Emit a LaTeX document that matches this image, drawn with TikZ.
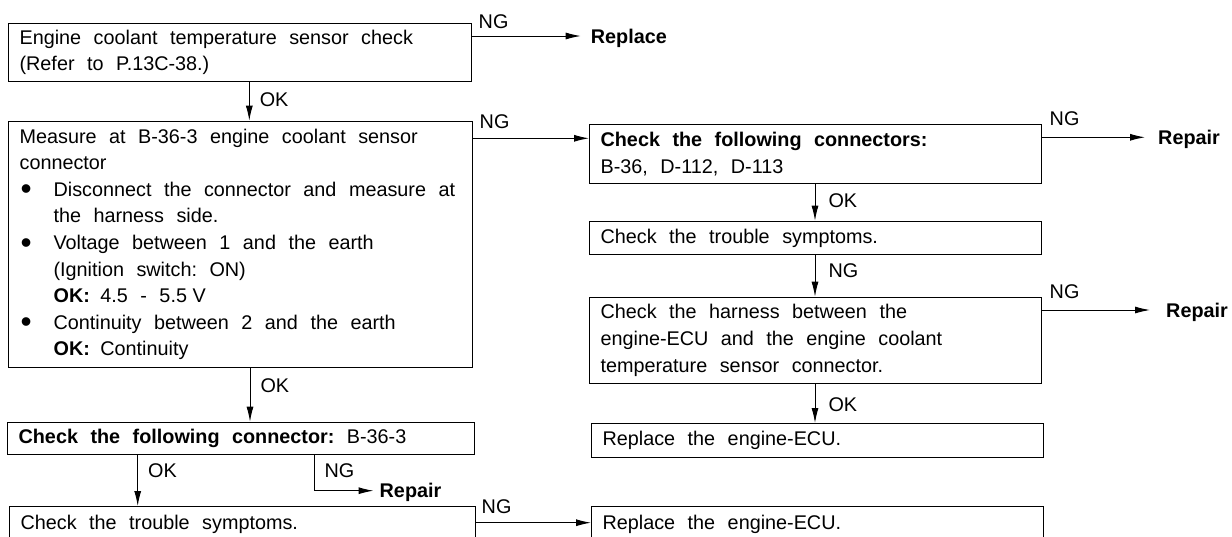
\documentclass[tikz,border=0pt]{standalone}
\usepackage{fontspec}
\setmainfont{Liberation Sans}
\usetikzlibrary{arrows.meta}
\newcommand\myind{\hspace*{34pt}}
\newcommand\mybul{\makebox[34pt][l]{\hspace*{1pt}\raisebox{-3.6pt}{\scalebox{1.6}{•}}}}
\newcommand\myfont{\fontsize{19.8}{26.6}\selectfont\frenchspacing}
\newcommand\widesp{\spaceskip=12.5pt plus 2pt minus 1pt\xspaceskip=12.5pt plus 2pt minus 1pt\relax}
\begin{document}
\begin{tikzpicture}[x=1pt,y=-1pt,
  box/.style={draw, line width=1.2pt, anchor=north west, align=left, inner xsep=11pt, inner ysep=0pt,
    font=\myfont, execute at begin node=\widesp},
  lbl/.style={anchor=west, inner sep=0pt, font=\myfont, text height=14pt, text depth=0pt},
  lblb/.style={lbl, font=\myfont\bfseries},
  ng/.style={anchor=base west, inner sep=0pt, font=\myfont},
  arr/.style={line width=1pt, -{Latex[length=15pt,width=7pt]}},
]
\useasboundingbox (0,0) rectangle (1232,536);

% left column
\node[box, minimum width=463pt, minimum height=58.3pt, text width=441pt] (b1) at (8,22.7)
  {Engine coolant temperature sensor check\\(Refer to P.13C-38.)};
\node[box, minimum width=464pt, minimum height=246pt, text width=442pt] (b2) at (8,120.7)
  {Measure at B-36-3 engine coolant sensor\\
   connector\\
   \mybul Disconnect the connector and measure at\\
   \myind the harness side.\\
   \mybul Voltage between 1 and the earth\\
   \myind (Ignition switch: ON)\\
   \myind \textbf{OK:}\hspace{-2pt} 4.5 - 5.5\hspace{-7pt} V\\
   \mybul Continuity between 2 and the earth\\
   \myind \textbf{OK:}\hspace{-2pt} Continuity};
\node[box, minimum width=467pt, minimum height=32.3pt, text width=445pt] (b3) at (7,421.7)
  {\textbf{Check the following connector:} B-36-3};
\node[box, minimum width=466pt, minimum height=36pt, text width=444pt] (b4) at (9,506)
  {Check the trouble symptoms.};

% right column
\node[box, minimum width=452pt, minimum height=58.7pt, text width=430pt] (r1) at (589,124)
  {\textbf{Check the following connectors:}\\B-36, D-112, D-113};
\node[box, minimum width=452pt, minimum height=33.3pt, text width=430pt] (r2) at (589,220.7)
  {Check the trouble symptoms.};
\node[box, minimum width=452pt, minimum height=86.3pt, text width=430pt] (r3) at (589,296.7)
  {Check the harness between the\\engine-ECU and the engine coolant\\temperature sensor connector.};
\node[box, minimum width=452pt, minimum height=34pt, text width=430pt] (r4) at (591,423)
  {Replace the engine-ECU.};
\node[box, minimum width=452pt, minimum height=36pt, text width=430pt] (r5) at (591,506)
  {Replace the engine-ECU.};

% result texts
\node[lblb] (rep1) at (590.7,36) {Replace};
\node[lblb] (rep2) at (1158,137.3) {Repair};
\node[lblb] (rep3) at (1166,310) {Repair};
\node[lblb] (rep4) at (379.5,490.7) {Repair};

% helper coordinates
\coordinate (a1) at ([xshift=241.3pt]b1.south west);
\coordinate (a2) at ([xshift=242pt]b2.south west);
\coordinate (a3) at ([xshift=130.7pt]b3.south west);
\coordinate (a4) at ([xshift=307pt]b3.south west);
\coordinate (rx1) at ([xshift=226pt]r1.south west);
\coordinate (rx2) at ([xshift=226pt]r2.south west);
\coordinate (rx3) at ([xshift=226pt]r3.south west);
\coordinate (r1in) at ([yshift=-14.3pt]r1.north west);
\coordinate (r5in) at ([yshift=-16.7pt]r5.north west);

% connectors
\draw[arr] (b1.east |- rep1.west) -- ([xshift=-10pt]rep1.west)
  node[ng, at start, xshift=6pt, yshift=8pt] {NG};
\draw[arr] (a1) -- (a1 |- b2.north) node[lbl, pos=0.45, xshift=10pt] {OK};
\draw[arr] (b2.east |- r1in) -- (r1in) node[ng, at start, xshift=6pt, yshift=10pt] {NG};
\draw[arr] (a2) -- (a2 |- b3.north) node[lbl, pos=0.33, xshift=10pt] {OK};
\draw[arr] (a3) -- (a3 |- b4.north) node[lbl, pos=0.31, xshift=10pt] {OK};
\draw[arr] (a4) |- ([xshift=-6pt]rep4.west) node[lbl, pos=0.22, xshift=10pt] {NG};
\draw[arr] (b4.east |- r5in) -- (r5in) node[ng, at start, xshift=5pt, yshift=9.5pt] {NG};

\draw[arr] (r1.east |- rep2.west) -- ([xshift=-13pt]rep2.west)
  node[ng, at start, xshift=7pt, yshift=12pt] {NG};
\draw[arr] (rx1) -- (rx1 |- r2.north) node[lbl, pos=0.45, xshift=13pt] {OK};
\draw[arr] (rx2) -- (rx2 |- r3.north) node[lbl, pos=0.38, xshift=13pt] {NG};
\draw[arr] (r3.east |- rep3.west) -- ([xshift=-16pt]rep3.west)
  node[ng, at start, xshift=7pt, yshift=12pt] {NG};
\draw[arr] (rx3) -- (rx3 |- r4.north) node[lbl, pos=0.52, xshift=13pt] {OK};
\end{tikzpicture}
\end{document}
